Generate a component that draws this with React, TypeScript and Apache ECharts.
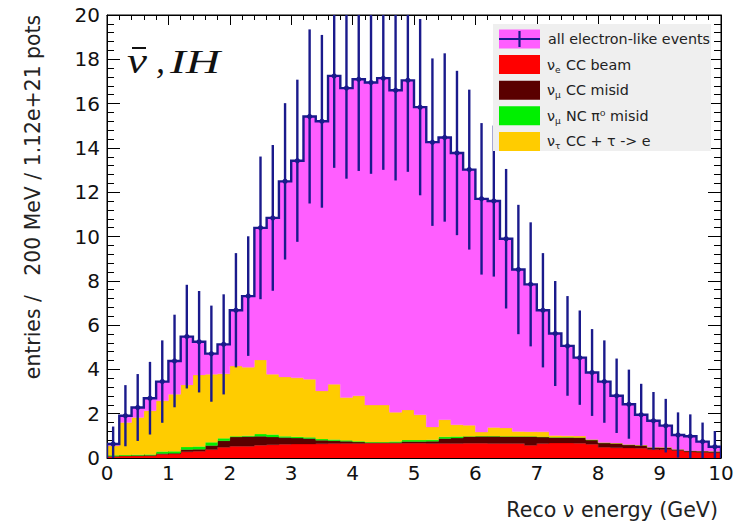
import React, { useEffect, useRef } from "react";
import * as echarts from "echarts";

// Reconstructed energy histogram: 50 bins of 200 MeV from 0 to 10 GeV
const BIN_WIDTH = 0.2;

// stacked components (entries / 200 MeV), bottom to top
const nueCCBeam = [
  0.08, 0.09, 0.09, 0.1, 0.17, 0.18, 0.28, 0.3, 0.38, 0.48,
  0.53, 0.53, 0.58, 0.6, 0.62, 0.63, 0.63, 0.64, 0.65, 0.66,
  0.66, 0.67, 0.67, 0.67, 0.67, 0.67, 0.66, 0.66, 0.66, 0.67,
  0.67, 0.66, 0.66, 0.66, 0.57, 0.66, 0.68, 0.68, 0.67, 0.62,
  0.48, 0.46, 0.45, 0.44, 0.38, 0.38, 0.34, 0.27, 0.25, 0.24,
];
const numuCCMisid = [
  0.0, 0.01, 0.02, 0.02, 0.03, 0.04, 0.1, 0.1, 0.18, 0.3,
  0.42, 0.44, 0.4, 0.35, 0.3, 0.27, 0.25, 0.16, 0.13, 0.1,
  0.06, 0.03, 0.03, 0.03, 0.07, 0.07, 0.1, 0.22, 0.24, 0.3,
  0.31, 0.32, 0.31, 0.31, 0.4, 0.29, 0.25, 0.25, 0.25, 0.19,
  0.2, 0.21, 0.15, 0.14, 0.1, 0.09, 0.06, 0.06, 0.07, 0.06,
];
const numuNCMisid = [
  0.04, 0.04, 0.04, 0.04, 0.09, 0.08, 0.12, 0.12, 0.15, 0.11,
  0.03, 0.03, 0.1, 0.11, 0.06, 0.06, 0.06, 0.06, 0.06, 0.04,
  0.04, 0.02, 0.02, 0.04, 0.07, 0.07, 0.06, 0.08, 0.07, 0.01,
  0.01, 0.01, 0.01, 0.01, 0.01, 0.01, 0.01, 0.01, 0.01, 0.01,
  0.01, 0.0, 0.0, 0.0, 0.0, 0.0, 0.0, 0.0, 0.0, 0.0,
];
const nutauCC = [
  0.43, 1.46, 1.68, 1.97, 2.29, 2.58, 2.8, 3.23, 3.07, 2.91,
  3.17, 3.1, 3.35, 2.72, 2.68, 2.66, 2.62, 2.17, 2.49, 1.93,
  2.05, 1.67, 1.67, 1.32, 1.36, 1.14, 0.58, 0.77, 0.53, 0.5,
  0.18, 0.39, 0.38, 0.22, 0.21, 0.22, 0.08, 0.06, 0.06, 0.02,
  0.01, 0.01, 0.01, 0.01, 0.01, 0.01, 0.0, 0.0, 0.0, 0.0,
];
const nueSignal = [
  0.08, 0.31, 0.45, 0.57, 0.87, 1.5, 2.18, 1.5, 0.93, 1.33,
  2.52, 3.21, 5.96, 7.06, 8.83, 9.8, 11.86, 12.17, 13.92, 13.97,
  14.29, 14.56, 14.76, 14.54, 14.88, 13.89, 12.86, 12.74, 12.27, 11.54,
  10.53, 10.22, 8.54, 7.31, 6.65, 5.49, 4.6, 4.06, 3.54, 3.02,
  2.75, 2.13, 1.82, 1.36, 1.19, 0.98, 0.64, 0.65, 0.42, 0.21,
];
// statistical error bars of "all electron-like events"
const allEventsErr = [
  0.79, 1.38, 1.51, 1.64, 1.86, 2.09, 2.34, 2.29, 2.17, 2.26,
  2.58, 2.7, 3.22, 3.29, 3.53, 3.66, 3.93, 3.9, 4.15, 4.09,
  4.14, 4.12, 4.14, 4.07, 4.13, 3.98, 3.78, 3.8, 3.71, 3.61,
  3.42, 3.41, 3.15, 2.92, 2.8, 2.58, 2.37, 2.25, 2.13, 1.96,
  1.86, 1.68, 1.56, 1.4, 1.3, 1.21, 1.02, 0.99, 0.86, 0.71,
];

const legendLabels = [
  { main: "all electron-like events", nu: "", sub: "", rest: "" },
  { main: "", nu: "ν", sub: "e", rest: "CC beam" },
  { main: "", nu: "ν", sub: "μ", rest: "CC misid" },
  { main: "", nu: "ν", sub: "μ", rest: "NC π⁰ misid" },
  { main: "", nu: "ν", sub: "τ", rest: "CC + τ -> e" },
];

const COLORS = {
  signal: "#ff5eff",
  beam: "#ff0000",
  ccMisid: "#5a0000",
  ncMisid: "#00f000",
  tau: "#ffcc00",
  line: "#1a1a8c",
};

const FONT = "DejaVu Sans";

export default function App() {
  const ref = useRef<HTMLDivElement>(null);

  useEffect(() => {
    if (!ref.current) return;
    const chart = echarts.init(ref.current, undefined, { renderer: "svg" });
    const N = nueCCBeam.length;

    const layers = [
      { name: "nue CC beam", color: COLORS.beam, values: nueCCBeam },
      { name: "numu CC misid", color: COLORS.ccMisid, values: numuCCMisid },
      { name: "numu NC misid", color: COLORS.ncMisid, values: numuNCMisid },
      { name: "nutau CC", color: COLORS.tau, values: nutauCC },
      { name: "signal", color: COLORS.signal, values: nueSignal },
    ];
    const bands: { lower: number[]; upper: number[] }[] = [];
    let base = new Array(N).fill(0);
    layers.forEach((l) => {
      const top = base.map((b, i) => b + l.values[i]);
      bands.push({ lower: base, upper: top });
      base = top;
    });
    const totals = base;

    const bandSeries = layers.map((l, k) => ({
      type: "custom",
      name: l.name,
      clip: true,
      silent: true,
      z: 2,
      data: [[0, 0]],
      renderItem: (_p: any, api: any) => {
        const { lower, upper } = bands[k];
        const pts: number[][] = [];
        for (let i = 0; i < N; i++) {
          pts.push(api.coord([i * BIN_WIDTH, upper[i]]));
          pts.push(api.coord([(i + 1) * BIN_WIDTH, upper[i]]));
        }
        for (let i = N - 1; i >= 0; i--) {
          pts.push(api.coord([(i + 1) * BIN_WIDTH, lower[i]]));
          pts.push(api.coord([i * BIN_WIDTH, lower[i]]));
        }
        return { type: "polygon", shape: { points: pts }, style: { fill: l.color, stroke: l.color, lineWidth: 0.3 } };
      },
    }));

    const outlineSeries = {
      type: "custom",
      name: "outline",
      clip: true,
      silent: true,
      z: 3,
      data: [[0, 0]],
      renderItem: (_p: any, api: any) => {
        const pts: number[][] = [api.coord([0, 0])];
        for (let i = 0; i < N; i++) {
          pts.push(api.coord([i * BIN_WIDTH, totals[i]]));
          pts.push(api.coord([(i + 1) * BIN_WIDTH, totals[i]]));
        }
        pts.push(api.coord([N * BIN_WIDTH, 0]));
        return { type: "polyline", shape: { points: pts }, style: { stroke: COLORS.line, lineWidth: 2.4, fill: "none" } };
      },
    };

    const errorSeries = {
      type: "custom",
      name: "all electron-like events",
      clip: true,
      silent: true,
      z: 4,
      data: totals.map((v, i) => [(i + 0.5) * BIN_WIDTH, v, allEventsErr[i]]),
      renderItem: (_p: any, api: any) => {
        const x = api.value(0);
        const y = api.value(1);
        const e = api.value(2);
        const c = api.coord([x, y]);
        const lo = api.coord([x, Math.max(0, y - e)]);
        const hi = api.coord([x, y + e]);
        return {
          type: "group",
          children: [
            { type: "line", shape: { x1: lo[0], y1: lo[1], x2: hi[0], y2: hi[1] }, style: { stroke: COLORS.line, lineWidth: 2.4 } },
            { type: "circle", shape: { cx: c[0], cy: c[1], r: 2.6 }, style: { fill: COLORS.line } },
          ],
        };
      },
    };

    const axisCommon = {
      type: "value",
      splitLine: { show: false },
      axisLine: { show: true, onZero: false, lineStyle: { color: "#000", width: 1 } },
    };

    const legendGraphics: any[] = [
      { type: "rect", shape: { x: 493, y: 24, width: 218, height: 127 }, style: { fill: "#efefef" }, z: 10 },
    ];
    const swatchColors = [COLORS.signal, COLORS.beam, COLORS.ccMisid, COLORS.ncMisid, COLORS.tau];
    legendLabels.forEach((lab, i) => {
      const cy = 39 + i * 25.6;
      legendGraphics.push({ type: "rect", shape: { x: 499, y: cy - 9.5, width: 41, height: 19 }, style: { fill: swatchColors[i] }, z: 11 });
      if (i === 0) {
        legendGraphics.push({ type: "line", shape: { x1: 499, y1: cy, x2: 540, y2: cy }, style: { stroke: COLORS.line, lineWidth: 2.2 }, z: 12 });
        legendGraphics.push({ type: "line", shape: { x1: 519.5, y1: cy - 8, x2: 519.5, y2: cy + 8 }, style: { stroke: COLORS.line, lineWidth: 2.2 }, z: 12 });
        legendGraphics.push({ type: "text", x: 548, y: cy, style: { text: lab.main, fontFamily: FONT, fontSize: 14.3, fill: "#222", align: "left", verticalAlign: "middle" }, z: 12 });
      } else {
        legendGraphics.push({ type: "text", x: 547, y: cy, style: { text: lab.nu, fontFamily: FONT, fontSize: 14.3, fill: "#222", align: "left", verticalAlign: "middle" }, z: 12 });
        legendGraphics.push({ type: "text", x: 555, y: cy + 5, style: { text: lab.sub, fontFamily: FONT, fontSize: 9, fill: "#222", align: "left", verticalAlign: "middle" }, z: 12 });
        legendGraphics.push({ type: "text", x: 566, y: cy, style: { text: lab.rest, fontFamily: FONT, fontSize: 14.3, fill: "#222", align: "left", verticalAlign: "middle" }, z: 12 });
      }
    });

    const option: any = {
      animation: false,
      backgroundColor: "#fff",
      grid: { left: 107, right: 23, top: 15, bottom: 65, show: true, borderColor: "#000", borderWidth: 1, backgroundColor: "transparent" },
      xAxis: [
        {
          ...axisCommon,
          min: 0,
          max: 10,
          interval: 1,
          position: "bottom",
          axisTick: { show: true, inside: true, length: 10, lineStyle: { color: "#000" } },
          minorTick: { show: true, splitNumber: 5, length: 5, lineStyle: { color: "#000" } },
          axisLabel: { color: "#111", fontSize: 20, fontFamily: FONT, margin: 5 },
        },
        {
          ...axisCommon,
          min: 0,
          max: 10,
          interval: 1,
          position: "top",
          axisTick: { show: true, inside: true, length: 10, lineStyle: { color: "#000" } },
          minorTick: { show: true, splitNumber: 5, length: 5, lineStyle: { color: "#000" } },
          axisLabel: { show: false },
        },
      ],
      yAxis: [
        {
          ...axisCommon,
          min: 0,
          max: 20,
          interval: 2,
          position: "left",
          axisTick: { show: true, inside: true, length: 13, lineStyle: { color: "#000" } },
          minorTick: { show: true, splitNumber: 5, length: 7, lineStyle: { color: "#000" } },
          axisLabel: { color: "#111", fontSize: 20, fontFamily: FONT, margin: 7 },
        },
        {
          ...axisCommon,
          min: 0,
          max: 20,
          interval: 2,
          position: "right",
          axisTick: { show: true, inside: true, length: 13, lineStyle: { color: "#000" } },
          minorTick: { show: true, splitNumber: 5, length: 7, lineStyle: { color: "#000" } },
          axisLabel: { show: false },
        },
      ],
      series: [...bandSeries, outlineSeries, errorSeries],
      graphic: [
        ...legendGraphics,
        // title  nu-bar, IH
        { type: "text", x: 127, y: 61, scaleX: 1.25, style: { text: "ν", fontFamily: "Liberation Serif", fontStyle: "italic", fontSize: 36, fill: "#111", align: "left", verticalAlign: "middle" }, z: 12 },
        { type: "line", shape: { x1: 132, y1: 48, x2: 146, y2: 48 }, style: { stroke: "#111", lineWidth: 2 }, z: 12 },
        { type: "text", x: 156, y: 61, style: { text: ",", fontFamily: "Liberation Serif", fontStyle: "italic", fontSize: 36, fill: "#111", align: "left", verticalAlign: "middle" }, z: 12 },
        { type: "text", x: 170, y: 61, scaleX: 1.4, style: { text: "IH", fontFamily: "Liberation Serif", fontStyle: "italic", fontSize: 34, fill: "#111", align: "left", verticalAlign: "middle" }, z: 12 },
        // axis titles
        { type: "text", x: 718, y: 510, style: { text: "Reco ν energy (GeV)", fontFamily: FONT, fontSize: 20.6, fill: "#222", align: "right", verticalAlign: "middle" }, z: 12 },
        { type: "text", x: 33, y: 197, rotation: Math.PI / 2, style: { text: "entries /   200 MeV / 1.12e+21 pots", fontFamily: FONT, fontSize: 20.4, fill: "#222", align: "center", verticalAlign: "middle" }, z: 12 },
      ],
    };

    chart.setOption(option);
    return () => chart.dispose();
  }, []);

  return <div ref={ref} style={{ width: 744, height: 523, position: "absolute", left: 0, top: 0 }} />;
}
